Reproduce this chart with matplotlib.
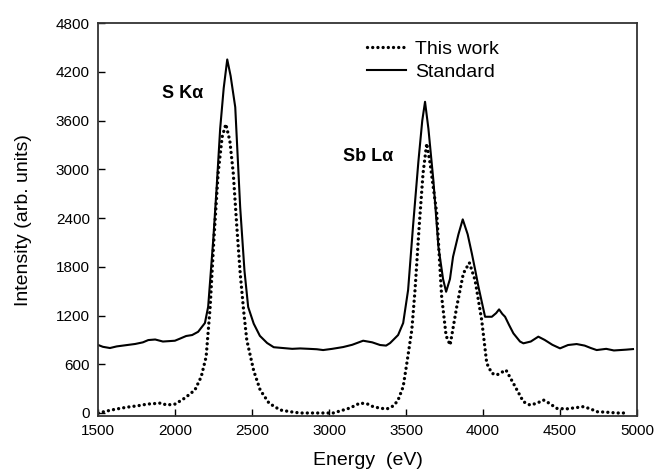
import matplotlib.pyplot as plt

plt.rcParams['font.family'] = ['Liberation Sans', 'DejaVu Sans']

# Standard spectrum (solid)
std_energy = [1500, 1530, 1576, 1620, 1680, 1740, 1790, 1825, 1870, 1920, 1960, 1998,
              2030, 2071, 2110, 2149, 2193, 2214, 2247, 2270, 2292, 2315, 2338, 2360,
              2390, 2422, 2450, 2474, 2510, 2550, 2597, 2640, 2700, 2760, 2812, 2870,
              2920, 2961, 3020, 3091, 3150, 3221, 3280, 3331, 3370, 3396, 3448, 3481,
              3513, 3545, 3580, 3605, 3623, 3645, 3677, 3710, 3740, 3760, 3785, 3805,
              3840, 3868, 3900, 3927, 3950, 3970, 4013, 4057, 4085, 4104, 4125, 4143,
              4170, 4197, 4240, 4262, 4310, 4359, 4400, 4450, 4500, 4552, 4608, 4660,
              4700, 4738, 4800, 4850, 4890, 4930, 4974]
std_counts = [837, 815, 800, 820, 835, 850, 870, 898, 905, 880, 885, 890,
              915, 948, 960, 1000, 1108, 1308, 2130, 2800, 3500, 4000, 4353, 4150,
              3766, 2535, 1750, 1305, 1100, 950, 862, 810, 800, 790, 795, 790,
              785, 775, 790, 812, 840, 890, 870, 837, 830, 861, 960, 1108,
              1514, 2300, 3100, 3600, 3832, 3500, 2868, 2047, 1650, 1493, 1650, 1924,
              2200, 2384, 2200, 1965, 1750, 1555, 1185, 1185, 1230, 1276, 1220, 1185,
              1080, 981, 880, 858, 880, 940, 900, 840, 796, 837, 849, 830,
              800, 775, 790, 770, 775, 780, 787]

# This work spectrum (dotted)
work_energy = [1500, 1586, 1650, 1700, 1760, 1820, 1880, 1911, 1942, 2000, 2063, 2128,
               2169, 2201, 2227, 2250, 2279, 2305, 2329, 2355, 2377, 2400, 2422, 2445,
               2465, 2510, 2552, 2610, 2682, 2750, 2812, 2900, 3026, 3080, 3136, 3201,
               3250, 3286, 3330, 3374, 3420, 3448, 3481, 3505, 3537, 3558, 3585, 3610,
               3634, 3656, 3699, 3731, 3760, 3786, 3829, 3872, 3911, 3948, 3991, 4024,
               4057, 4089, 4149, 4197, 4262, 4305, 4350, 4392, 4430, 4479, 4540, 4600,
               4651, 4700, 4738, 4800, 4870, 4940]
work_counts = [0, 37, 60, 75, 90, 110, 118, 123, 98, 110, 185, 283,
               447, 693, 1305, 2100, 2954, 3400, 3557, 3350, 2954, 2300, 1723, 1250,
               898, 520, 283, 120, 37, 15, 0, 0, 0, 30, 62, 123,
               110, 78, 60, 49, 90, 160, 324, 615, 1021, 1514, 2300, 2950,
               3319, 3073, 2458, 1432, 950, 837, 1308, 1719, 1850, 1637, 1145, 612,
               489, 468, 529, 365, 139, 98, 120, 160, 120, 57, 50, 65,
               78, 50, 16, 10, 0, 0]

fig = plt.figure(figsize=(6.55, 4.73), dpi=100)
ax = fig.add_axes([0.15, 0.1205, 0.8225, 0.8305])

ax.plot(work_energy, work_counts, color='black', linewidth=2.4,
        linestyle=(0, (0.01, 1.55)), dash_capstyle='round', label='This work')
ax.plot(std_energy, std_counts, color='black', linewidth=1.5, label='Standard')

ax.set_xlim(1500, 5000)
ax.set_ylim(-37, 4800)
ax.set_xticks(range(1500, 5001, 500))
ax.set_yticks(range(0, 4801, 600))
ax.tick_params(direction='in', length=5, width=1, labelsize=11, colors='black',
               top=False, right=False, pad=6)
for s in ax.spines.values():
    s.set_color('#333333')
    s.set_linewidth(1.3)

ax.set_xlabel('Energy  (eV)', fontsize=14, labelpad=10)
ax.set_ylabel('Intensity (arb. units)', fontsize=14, labelpad=17)

ax.text(2045, 3935, 'S K\u03b1', fontsize=13, fontweight='bold', ha='center', va='center')
ax.text(3253, 3160, 'Sb L\u03b1', fontsize=13, fontweight='bold', ha='center', va='center')

ax.legend(loc='upper left', bbox_to_anchor=(0.485, 0.977), frameon=False,
          fontsize=14, handlelength=2.0, handletextpad=0.45, labelspacing=0.3,
          borderaxespad=0)

fig.savefig('out.png', dpi=100)
